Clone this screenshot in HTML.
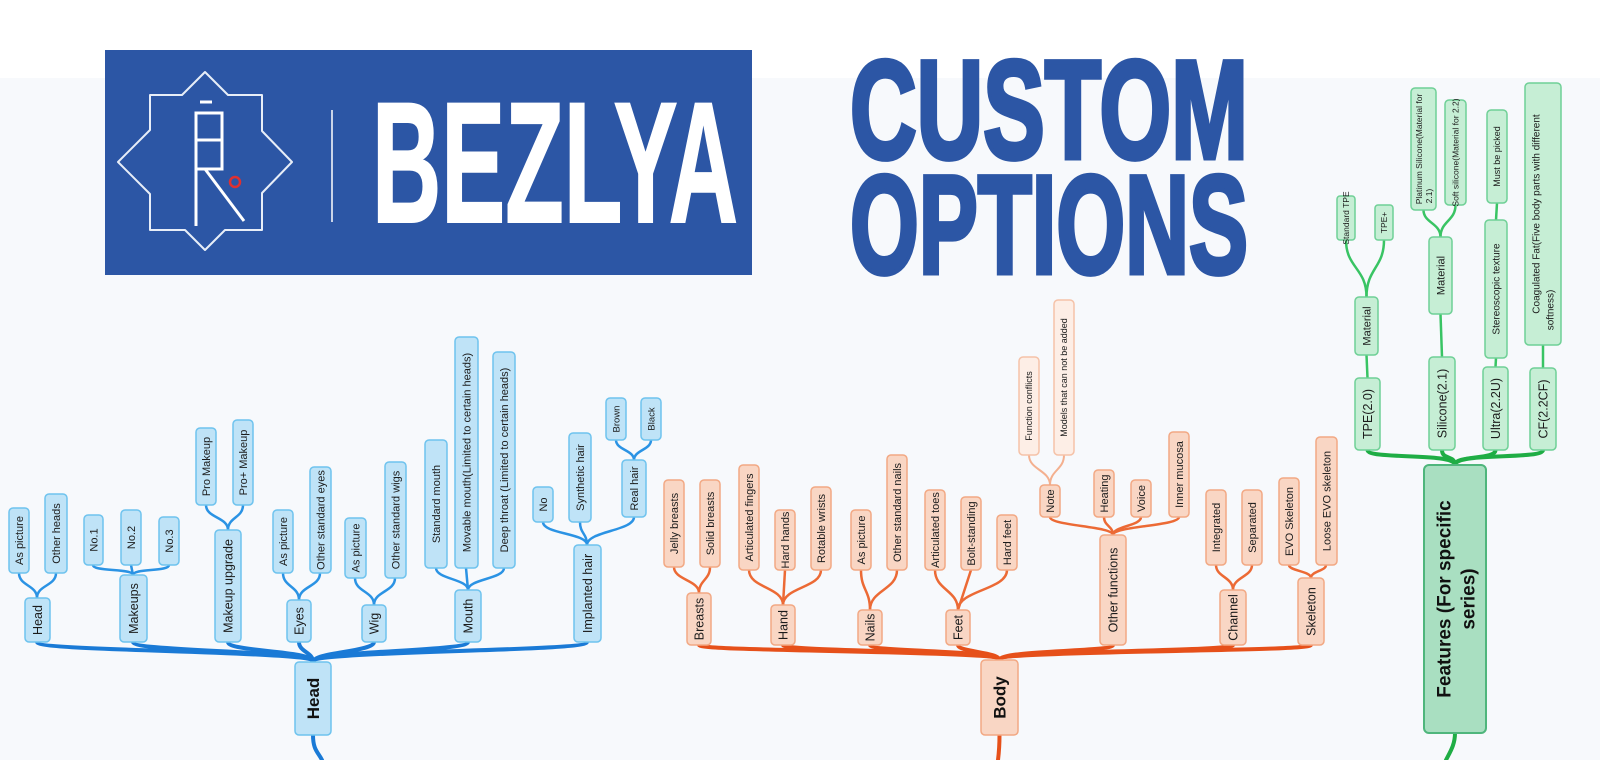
<!DOCTYPE html>
<html><head><meta charset="utf-8"><style>
html,body{margin:0;padding:0;background:#f7f9fc;}
svg{display:block}
text{font-family:"Liberation Sans",sans-serif;}
.hb{fill:#bfe3f7;stroke:#6ec3ee;stroke-width:1.5}
.ob{fill:#f9d6c4;stroke:#f2a883;stroke-width:1.5}
.ol{fill:#fdeee6;stroke:#f5c2a8;stroke-width:1.5}
.gb{fill:#c6eed5;stroke:#6fd096;stroke-width:1.5}
.gm{fill:#a9dfc1;stroke:#4fb67c;stroke-width:2}
.t{font-size:11px;fill:#1b1b1b;text-anchor:middle}
.t1{font-size:12.5px;fill:#1b1b1b;text-anchor:middle}
.tm{font-size:17px;font-weight:bold;fill:#111;text-anchor:middle}
.lb1{fill:none;stroke:#1a7ad6;stroke-width:4;stroke-linecap:round}
.lb2{fill:none;stroke:#2b93e4;stroke-width:2.5}
.lo1{fill:none;stroke:#e6501a;stroke-width:4;stroke-linecap:round}
.lo2{fill:none;stroke:#ec6a35;stroke-width:2.5}
.lo3{fill:none;stroke:#f4b08f;stroke-width:2}
.lg1{fill:none;stroke:#1fad45;stroke-width:4;stroke-linecap:round}
.lg2{fill:none;stroke:#39c464;stroke-width:2.5}
</style></head><body>
<svg width="1600" height="760" viewBox="0 0 1600 760" xmlns="http://www.w3.org/2000/svg">
<rect x="0" y="0" width="1600" height="78" fill="#ffffff"/>
<!-- Logo -->
<rect x="105" y="50" width="647" height="225" fill="#2c56a5"/>
<polygon points="205,72 228,95 262,95 262,131 292,162 262,193 262,230 225,230 205,250 185,230 150,230 150,194 118,162 150,130 150,95 182,95" fill="none" stroke="#e8eef8" stroke-width="2" stroke-linejoin="round"/>
<g stroke="#fff" stroke-width="3" fill="none">
<line x1="200" y1="102" x2="212" y2="102"/>
<rect x="196" y="113" width="26" height="56"/>
<line x1="196" y1="140" x2="222" y2="140"/>
<line x1="196" y1="169" x2="196" y2="226"/>
<line x1="205" y1="169" x2="244" y2="221"/>
</g>
<circle cx="235" cy="182" r="5" fill="none" stroke="#e03030" stroke-width="2.5"/>
<line x1="332" y1="110" x2="332" y2="222" stroke="#fff" stroke-width="1.5"/>
<text x="372" y="222" font-size="172" font-weight="bold" fill="#fff" stroke="#fff" stroke-width="2" textLength="366" lengthAdjust="spacingAndGlyphs">BEZLYA</text>
<text x="850" y="158" font-size="140" font-weight="bold" fill="#2c56a5" stroke="#2c56a5" stroke-width="5" textLength="398" lengthAdjust="spacingAndGlyphs">CUSTOM</text>
<text x="850" y="273" font-size="140" font-weight="bold" fill="#2c56a5" stroke="#2c56a5" stroke-width="5" textLength="398" lengthAdjust="spacingAndGlyphs">OPTIONS</text>

<!-- ===== HEAD connectors ===== -->
<path class="lb1" d="M313 735 C313 750 318 752 322 760"/>
<path class="lb1" d="M313 662 C313 650 37 652 37 642"/>
<path class="lb1" d="M313 662 C313 650 133 652 133 642"/>
<path class="lb1" d="M313 662 C313 650 228 652 228 642"/>
<path class="lb1" d="M313 662 C313 652 299 652 299 642"/>
<path class="lb1" d="M313 662 C313 652 374 652 374 642"/>
<path class="lb1" d="M313 662 C313 650 468 652 468 642"/>
<path class="lb1" d="M313 662 C313 650 587 652 587 642"/>
<path class="lb2" d="M37 598 C37 585 19 586 19 573"/>
<path class="lb2" d="M37 598 C37 585 56 586 56 573"/>
<path class="lb2" d="M133 575 C133 568 93 572 93 565"/>
<path class="lb2" d="M133 575 L131 565"/>
<path class="lb2" d="M133 575 C133 568 169 572 169 565"/>
<path class="lb2" d="M228 530 C228 517 206 518 206 505"/>
<path class="lb2" d="M228 530 C228 517 243 518 243 505"/>
<path class="lb2" d="M299 600 C299 586 283 587 283 573"/>
<path class="lb2" d="M299 600 C299 586 320 587 320 573"/>
<path class="lb2" d="M374 605 C374 591 355 592 355 578"/>
<path class="lb2" d="M374 605 C374 591 395 592 395 578"/>
<path class="lb2" d="M468 590 C468 579 436 579 436 568"/>
<path class="lb2" d="M468 590 L466 568"/>
<path class="lb2" d="M468 590 C468 579 504 579 504 568"/>
<path class="lb2" d="M587 545 C587 533 543 534 543 522"/>
<path class="lb2" d="M587 545 C587 533 580 534 580 522"/>
<path class="lb2" d="M587 545 C587 531 634 531 634 517"/>
<path class="lb2" d="M634 460 C634 450 616 450 616 440"/>
<path class="lb2" d="M634 460 C634 450 651 450 651 440"/>

<!-- HEAD nodes -->
<rect class="hb" x="295" y="662" width="36" height="73" rx="4"/><text class="tm" transform="translate(313 698.5) rotate(-90)" dy=".35em">Head</text>
<rect class="hb" x="25" y="598" width="25" height="44" rx="4"/><text class="t1" transform="translate(37.5 620) rotate(-90)" dy=".35em">Head</text>
<rect class="hb" x="120" y="575" width="27" height="67" rx="4"/><text class="t1" transform="translate(133.5 608.5) rotate(-90)" dy=".35em">Makeups</text>
<rect class="hb" x="215" y="530" width="26" height="112" rx="4"/><text class="t1" transform="translate(228 586) rotate(-90)" dy=".35em">Makeup upgrade</text>
<rect class="hb" x="287" y="600" width="24" height="42" rx="4"/><text class="t1" transform="translate(299 621) rotate(-90)" dy=".35em">Eyes</text>
<rect class="hb" x="362" y="605" width="24" height="37" rx="4"/><text class="t1" transform="translate(374 623.5) rotate(-90)" dy=".35em">Wig</text>
<rect class="hb" x="455" y="590" width="26" height="52" rx="4"/><text class="t1" transform="translate(468 616) rotate(-90)" dy=".35em">Mouth</text>
<rect class="hb" x="574" y="545" width="27" height="97" rx="4"/><text class="t1" transform="translate(587.5 593.5) rotate(-90)" dy=".35em">Implanted hair</text>

<rect class="hb" x="9" y="508" width="20" height="65" rx="4"/><text class="t" transform="translate(19 540.5) rotate(-90)" dy=".35em">As picture</text>
<rect class="hb" x="45" y="494" width="22" height="79" rx="4"/><text class="t" transform="translate(56 533.5) rotate(-90)" dy=".35em">Other heads</text>
<rect class="hb" x="84" y="515" width="19" height="50" rx="4"/><text class="t" transform="translate(93.5 540) rotate(-90)" dy=".35em">No.1</text>
<rect class="hb" x="121" y="510" width="20" height="55" rx="4"/><text class="t" transform="translate(131 537.5) rotate(-90)" dy=".35em">No.2</text>
<rect class="hb" x="159" y="517" width="20" height="48" rx="4"/><text class="t" transform="translate(169 541) rotate(-90)" dy=".35em">No.3</text>
<rect class="hb" x="196" y="428" width="20" height="77" rx="4"/><text class="t" transform="translate(206 466.5) rotate(-90)" dy=".35em">Pro Makeup</text>
<rect class="hb" x="233" y="420" width="20" height="85" rx="4"/><text class="t" transform="translate(243 462.5) rotate(-90)" dy=".35em">Pro+ Makeup</text>
<rect class="hb" x="273" y="510" width="20" height="63" rx="4"/><text class="t" transform="translate(283 541.5) rotate(-90)" dy=".35em">As picture</text>
<rect class="hb" x="310" y="467" width="21" height="106" rx="4"/><text class="t" transform="translate(320.5 520) rotate(-90)" dy=".35em">Other standard eyes</text>
<rect class="hb" x="345" y="518" width="21" height="60" rx="4"/><text class="t" transform="translate(355.5 548) rotate(-90)" dy=".35em">As picture</text>
<rect class="hb" x="385" y="462" width="21" height="116" rx="4"/><text class="t" transform="translate(395.5 520) rotate(-90)" dy=".35em">Other standard wigs</text>
<rect class="hb" x="425" y="440" width="22" height="128" rx="4"/><text class="t" transform="translate(436 504) rotate(-90)" dy=".35em">Standard mouth</text>
<rect class="hb" x="455" y="337" width="23" height="231" rx="4"/><text class="t" transform="translate(466.5 452.5) rotate(-90)" dy=".35em">Movable mouth(Limited to certain heads)</text>
<rect class="hb" x="493" y="352" width="22" height="216" rx="4"/><text class="t" transform="translate(504 460) rotate(-90)" dy=".35em">Deep throat (Limited to certain heads)</text>
<rect class="hb" x="533" y="487" width="20" height="35" rx="4"/><text class="t" transform="translate(543 504.5) rotate(-90)" dy=".35em">No</text>
<rect class="hb" x="569" y="433" width="22" height="89" rx="4"/><text class="t" transform="translate(580 477.5) rotate(-90)" dy=".35em">Synthetic hair</text>
<rect class="hb" x="622" y="460" width="24" height="57" rx="4"/><text class="t" transform="translate(634 488.5) rotate(-90)" dy=".35em">Real hair</text>
<rect class="hb" x="606" y="398" width="20" height="42" rx="4"/><text class="t" style="font-size:9.5px" transform="translate(616 419) rotate(-90)" dy=".35em">Brown</text>
<rect class="hb" x="641" y="398" width="20" height="42" rx="4"/><text class="t" style="font-size:9.5px" transform="translate(651 419) rotate(-90)" dy=".35em">Black</text>

<!-- ===== BODY connectors ===== -->
<path class="lo1" d="M999.5 735 C999.5 748 999 752 998 760"/>
<path class="lo1" d="M999.5 660 C999.5 650 699 652 699 645"/>
<path class="lo1" d="M999.5 660 C999.5 650 783 652 783 645"/>
<path class="lo1" d="M999.5 660 C999.5 650 870 652 870 645"/>
<path class="lo1" d="M999.5 660 C999.5 652 958 652 958 645"/>
<path class="lo1" d="M999.5 660 C999.5 650 1113 652 1113 645"/>
<path class="lo1" d="M999.5 660 C999.5 650 1233 652 1233 645"/>
<path class="lo1" d="M999.5 660 C999.5 650 1311 652 1311 645"/>
<path class="lo2" d="M699 593 C699 580 674 580 674 567"/>
<path class="lo2" d="M699 593 C699 580 710 580 710 567"/>
<path class="lo2" d="M783 605 C783 587 749 588 749 570"/>
<path class="lo2" d="M783 605 L785 570"/>
<path class="lo2" d="M783 605 C783 587 821 588 821 570"/>
<path class="lo2" d="M870 610 C870 590 861 590 861 570"/>
<path class="lo2" d="M870 610 C870 590 897 590 897 570"/>
<path class="lo2" d="M958 610 C958 590 935 590 935 570"/>
<path class="lo2" d="M958 610 L971 570"/>
<path class="lo2" d="M958 610 C958 590 1007 590 1007 570"/>
<path class="lo2" d="M1113 535 C1113 526 1050 526 1050 517"/>
<path class="lo2" d="M1113 535 C1113 526 1104 526 1104 517"/>
<path class="lo2" d="M1113 535 C1113 526 1141 526 1141 517"/>
<path class="lo2" d="M1113 535 C1113 526 1179 526 1179 517"/>
<path class="lo3" d="M1050 485 C1050 470 1029 470 1029 455"/>
<path class="lo3" d="M1050 485 C1050 470 1064 470 1064 455"/>
<path class="lo2" d="M1233 590 C1233 577 1216 577 1216 565"/>
<path class="lo2" d="M1233 590 C1233 577 1252 577 1252 565"/>
<path class="lo2" d="M1311 578 C1311 571 1289 571 1289 565"/>
<path class="lo2" d="M1311 578 C1311 571 1326 571 1326 565"/>

<!-- BODY nodes -->
<rect class="ob" x="981" y="660" width="37" height="75" rx="4"/><text class="tm" transform="translate(999.5 697.5) rotate(-90)" dy=".35em">Body</text>
<rect class="ob" x="687" y="593" width="24" height="52" rx="4"/><text class="t1" transform="translate(699 619) rotate(-90)" dy=".35em">Breasts</text>
<rect class="ob" x="771" y="605" width="24" height="40" rx="4"/><text class="t1" transform="translate(783 625) rotate(-90)" dy=".35em">Hand</text>
<rect class="ob" x="858" y="610" width="24" height="35" rx="4"/><text class="t1" transform="translate(870 627.5) rotate(-90)" dy=".35em">Nails</text>
<rect class="ob" x="946" y="610" width="24" height="35" rx="4"/><text class="t1" transform="translate(958 627.5) rotate(-90)" dy=".35em">Feet</text>
<rect class="ob" x="1100" y="535" width="26" height="110" rx="4"/><text class="t1" transform="translate(1113 590) rotate(-90)" dy=".35em">Other functions</text>
<rect class="ob" x="1220" y="590" width="26" height="55" rx="4"/><text class="t1" transform="translate(1233 617.5) rotate(-90)" dy=".35em">Channel</text>
<rect class="ob" x="1298" y="578" width="26" height="67" rx="4"/><text class="t1" transform="translate(1311 611.5) rotate(-90)" dy=".35em">Skeleton</text>

<rect class="ob" x="664" y="480" width="20" height="87" rx="4"/><text class="t" transform="translate(674 523.5) rotate(-90)" dy=".35em">Jelly breasts</text>
<rect class="ob" x="700" y="480" width="20" height="87" rx="4"/><text class="t" transform="translate(710 523.5) rotate(-90)" dy=".35em">Solid breasts</text>
<rect class="ob" x="739" y="465" width="20" height="105" rx="4"/><text class="t" transform="translate(749 517.5) rotate(-90)" dy=".35em">Articulated fingers</text>
<rect class="ob" x="775" y="510" width="20" height="60" rx="4"/><text class="t" transform="translate(785 540) rotate(-90)" dy=".35em">Hard hands</text>
<rect class="ob" x="811" y="487" width="20" height="83" rx="4"/><text class="t" transform="translate(821 528.5) rotate(-90)" dy=".35em">Rotable wrists</text>
<rect class="ob" x="851" y="510" width="20" height="60" rx="4"/><text class="t" transform="translate(861 540) rotate(-90)" dy=".35em">As picture</text>
<rect class="ob" x="887" y="455" width="20" height="115" rx="4"/><text class="t" transform="translate(897 512.5) rotate(-90)" dy=".35em">Other standard nails</text>
<rect class="ob" x="925" y="490" width="20" height="80" rx="4"/><text class="t" transform="translate(935 530) rotate(-90)" dy=".35em">Articulated toes</text>
<rect class="ob" x="961" y="497" width="20" height="73" rx="4"/><text class="t" transform="translate(971 533.5) rotate(-90)" dy=".35em">Bolt-standing</text>
<rect class="ob" x="997" y="515" width="20" height="55" rx="4"/><text class="t" transform="translate(1007 542.5) rotate(-90)" dy=".35em">Hard feet</text>
<rect class="ob" x="1040" y="485" width="20" height="32" rx="4"/><text class="t" transform="translate(1050 501) rotate(-90)" dy=".35em">Note</text>
<rect class="ob" x="1094" y="470" width="20" height="47" rx="4"/><text class="t" transform="translate(1104 493.5) rotate(-90)" dy=".35em">Heating</text>
<rect class="ob" x="1131" y="480" width="20" height="37" rx="4"/><text class="t" transform="translate(1141 498.5) rotate(-90)" dy=".35em">Voice</text>
<rect class="ob" x="1169" y="432" width="20" height="85" rx="4"/><text class="t" transform="translate(1179 474.5) rotate(-90)" dy=".35em">Inner mucosa</text>
<rect class="ol" x="1019" y="357" width="20" height="98" rx="4"/><text class="t" style="font-size:9px" transform="translate(1029 406) rotate(-90)" dy=".35em">Function conflicts</text>
<rect class="ol" x="1054" y="300" width="20" height="155" rx="4"/><text class="t" style="font-size:9px" transform="translate(1064 377.5) rotate(-90)" dy=".35em">Models that can not be added</text>
<rect class="ob" x="1206" y="490" width="20" height="75" rx="4"/><text class="t" transform="translate(1216 527.5) rotate(-90)" dy=".35em">Integrated</text>
<rect class="ob" x="1242" y="490" width="20" height="75" rx="4"/><text class="t" transform="translate(1252 527.5) rotate(-90)" dy=".35em">Separated</text>
<rect class="ob" x="1279" y="478" width="20" height="87" rx="4"/><text class="t" transform="translate(1289 521.5) rotate(-90)" dy=".35em">EVO Skeleton</text>
<rect class="ob" x="1316" y="437" width="21" height="128" rx="4"/><text class="t" transform="translate(1326.5 501) rotate(-90)" dy=".35em">Loose EVO skeleton</text>

<!-- ===== FEATURES connectors ===== -->
<path class="lg1" d="M1455 733 C1455 745 1450 752 1446 760"/>
<path class="lg1" d="M1455 465 C1455 452 1367.5 460 1367.5 450"/>
<path class="lg1" d="M1455 465 C1455 455 1442 460 1442 450"/>
<path class="lg1" d="M1455 465 C1455 455 1495.5 460 1495.5 450"/>
<path class="lg1" d="M1455 465 C1455 452 1543 460 1543 450"/>
<path class="lg2" d="M1367.5 378 L1366.5 355"/>
<path class="lg2" d="M1366.5 297 C1366.5 268 1346 268 1346 240"/>
<path class="lg2" d="M1366.5 297 C1366.5 268 1384 268 1384 240"/>
<path class="lg2" d="M1442 357 L1440.5 314"/>
<path class="lg2" d="M1440.5 237 C1440.5 223 1423.5 223 1423.5 210"/>
<path class="lg2" d="M1440.5 237 C1440.5 221 1455.5 221 1455.5 205"/>
<path class="lg2" d="M1495.5 367 L1496 358"/>
<path class="lg2" d="M1496 220 L1497 203"/>
<path class="lg2" d="M1543 368 L1543 345"/>

<!-- FEATURES nodes -->
<rect class="gm" x="1424" y="465" width="62" height="268" rx="5"/>
<text class="tm" style="font-size:19px" transform="translate(1444 599) rotate(-90)" dy=".35em">Features  (For specific</text>
<text class="tm" style="font-size:19px" transform="translate(1468 599) rotate(-90)" dy=".35em">series)</text>
<rect class="gb" x="1355" y="378" width="25" height="72" rx="4"/><text class="t1" transform="translate(1367.5 414) rotate(-90)" dy=".35em">TPE(2.0)</text>
<rect class="gb" x="1429" y="357" width="26" height="93" rx="4"/><text class="t1" transform="translate(1442 403.5) rotate(-90)" dy=".35em">Silicone(2.1)</text>
<rect class="gb" x="1483" y="367" width="25" height="83" rx="4"/><text class="t1" transform="translate(1495.5 408.5) rotate(-90)" dy=".35em">Ultra(2.2U)</text>
<rect class="gb" x="1530" y="368" width="26" height="82" rx="4"/><text class="t1" transform="translate(1543 409) rotate(-90)" dy=".35em">CF(2.2CF)</text>
<rect class="gb" x="1355" y="297" width="23" height="58" rx="4"/><text class="t" transform="translate(1366.5 326) rotate(-90)" dy=".35em">Material</text>
<rect class="gb" x="1337" y="196" width="18" height="44" rx="3"/><text class="t" style="font-size:8.5px" transform="translate(1346 218) rotate(-90)" dy=".35em">Standard TPE</text>
<rect class="gb" x="1375" y="205" width="18" height="35" rx="3"/><text class="t" style="font-size:8.5px" transform="translate(1384 222.5) rotate(-90)" dy=".35em">TPE+</text>
<rect class="gb" x="1429" y="237" width="23" height="77" rx="4"/><text class="t" transform="translate(1440.5 275.5) rotate(-90)" dy=".35em">Material</text>
<rect class="gb" x="1411" y="88" width="25" height="122" rx="4"/>
<text class="t" style="font-size:8.5px" transform="translate(1419 149) rotate(-90)" dy=".35em">Platinum Silicone(Material for</text>
<text class="t" style="font-size:8.5px" transform="translate(1429 196) rotate(-90)" dy=".35em">2.1)</text>
<rect class="gb" x="1445" y="100" width="21" height="105" rx="4"/><text class="t" style="font-size:8.5px" transform="translate(1455.5 152.5) rotate(-90)" dy=".35em">Soft silicone(Material for 2.2)</text>
<rect class="gb" x="1485" y="220" width="22" height="138" rx="4"/><text class="t" style="font-size:10px" transform="translate(1496 289) rotate(-90)" dy=".35em">Stereoscopic texture</text>
<rect class="gb" x="1487" y="110" width="20" height="93" rx="4"/><text class="t" style="font-size:9px" transform="translate(1497 156.5) rotate(-90)" dy=".35em">Must be picked</text>
<rect class="gb" x="1525" y="83" width="36" height="262" rx="4"/>
<text class="t" style="font-size:10px" transform="translate(1536 214) rotate(-90)" dy=".35em">Coagulated Fat(Five body parts with different</text>
<text class="t" style="font-size:10px" transform="translate(1550 310) rotate(-90)" dy=".35em">softness)</text>
</svg>
</body></html>
